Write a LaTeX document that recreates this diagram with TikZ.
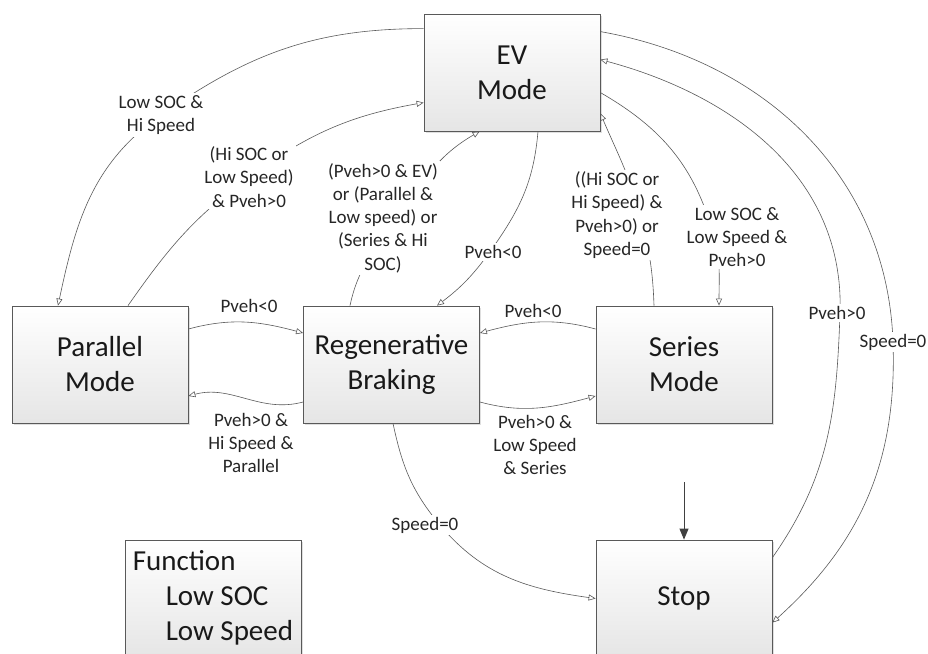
\documentclass[tikz,border=0pt]{standalone}
\usepackage{fontspec}
\setmainfont{Carlito}
\usetikzlibrary{arrows.meta,shadows}
\begin{document}
\begin{tikzpicture}[x=1pt,y=1pt,
  box/.style={draw=black!65, line width=0.8pt, top color=white, bottom color=black!10,
    minimum width=176pt, minimum height=117pt, inner sep=0pt, align=center,
    font=\fontsize{29}{35}\selectfont, text=black!90,
    drop shadow={shadow xshift=1.5pt, shadow yshift=-1.5pt, opacity=0.25}},
  boxtext/.style={font=\fontsize{29}{35}\selectfont, text=black!90, inner sep=0pt, align=left},
  lbl/.style={font=\fontsize{19}{23.3}\selectfont, align=center, inner sep=2pt, text=black!85},
  lblw/.style={lbl, fill=white},
  conn/.style={draw=black!65, line width=0.6pt, -{Triangle[open,length=7pt,width=6pt]}},
  initarrow/.style={draw=black!75, line width=1pt, -{Triangle[length=11pt,width=9pt]}},
]
\useasboundingbox (0,-653) rectangle (928,0);

% states
\node[box] (ev)   at (512,-72.5)   {EV\\Mode};
\node[box] (par)  at (100,-364.5)  {Parallel\\Mode};
\node[box] (reg)  at (391.5,-364.5){Regenerative\\Braking};
\node[box] (ser)  at (684,-364.5)  {Series\\Mode};
\node[box] (stop) at (684,-598.5)  {Stop};
\node[box] (fun)  at (213,-598.5)  {};
\node[boxtext, anchor=west] (funtext) at ([xshift=8pt,yshift=1pt]fun.west)
  {Function\\\hspace*{33pt}Low SOC\\\hspace*{33pt}Low Speed};

% waypoints of the curved connectors
\coordinate (w1) at (161,-115);
\coordinate (w2) at (249,-177);
\coordinate (w3) at (395,-220);
\coordinate (w4) at (494,-246);
\coordinate (w5) at (640,-215);
\coordinate (w6) at (714,-237);
\coordinate (w7) at (840,-313);
\coordinate (w8) at (893,-342);
\coordinate (w13) at (440,-525);
\coordinate (init) at (684,-482);

% connectors
\draw[conn] ([yshift=-15pt]ev.north west) to[out=180,in=35] (w1)
  to[out=215,in=78] ([xshift=-42pt]par.north);
\draw[conn] ([xshift=28pt]par.north) to[out=55,in=216] (w2)
  to[out=36,in=190] ([yshift=-89pt]ev.north west);
\draw[conn] ([xshift=-41.5pt]reg.north) to[out=78,in=235] (w3)
  to[out=55,in=210] ([xshift=56pt]ev.south west);
\draw[conn] ([xshift=26pt]ev.south) to[out=265,in=55] (w4)
  to[out=235,in=37] ([xshift=45.5pt]reg.north);
\draw[conn] ([xshift=-30pt]ser.north) to[out=92,in=285] (w5)
  to[out=105,in=293] ([yshift=18pt]ev.south east);
\draw[conn] ([yshift=-79pt]ev.north east) to[out=-30,in=105] (w6)
  to[out=-75,in=90] ([xshift=35pt]ser.north);
\draw[conn] ([yshift=-18pt]stop.north east) to[out=55,in=268] (w7)
  to[out=88,in=-15] ([yshift=-46pt]ev.north east);
\draw[conn] ([yshift=-18pt]ev.north east) to[out=-10,in=92] (w8)
  to[out=-88,in=42] ([yshift=-83pt]stop.north east);
\draw[conn] ([yshift=35.5pt]par.east) to[out=15,in=165] ([yshift=31.5pt]reg.west);
\draw[conn] ([yshift=-37.5pt]reg.west) to[out=195,in=15] ([yshift=-31.5pt]par.east);
\draw[conn] ([yshift=35.5pt]ser.west) to[out=165,in=15] ([yshift=31.5pt]reg.east);
\draw[conn] ([yshift=-37.5pt]reg.east) to[out=-15,in=195] ([yshift=-31.5pt]ser.west);
\draw[conn] ([xshift=1.5pt]reg.south) to[out=-78,in=130] (w13)
  to[out=-50,in=172] (stop.west);
\draw[initarrow] (init) -- (stop.north);

% labels
\node[lblw] (l1)  at (161,-115) {Low SOC \&\\Hi Speed};
\node[lblw] (l2)  at (249,-177) {(Hi SOC or\\Low Speed)\\\& Pveh>0};
\node[lblw] (l3)  at (383,-218) {(Pveh>0 \& EV)\\or (Parallel \&\\Low speed) or\\(Series \& Hi\\SOC)};
\node[lblw] (l4)  at (493,-252) {Pveh<0};
\node[lblw] (l5)  at (617,-215) {((Hi SOC or\\Hi Speed) \&\\Pveh>0) or\\Speed=0};
\node[lblw] (l6)  at (737,-237) {Low SOC \&\\Low Speed \&\\Pveh>0};
\node[lblw] (l7)  at (837,-313) {Pveh>0};
\node[lblw] (l8)  at (893,-342) {Speed=0};
\node[lblw] (l9)  at (249,-306) {Pveh<0};
\node[lblw] (l10) at (251,-443) {Pveh>0 \&\\Hi Speed \&\\Parallel};
\node[lblw] (l11) at (533,-311) {Pveh<0};
\node[lblw] (l12) at (535,-445) {Pveh>0 \&\\Low Speed\\\& Series};
\node[lblw] (l13) at (425,-525) {Speed=0};
\end{tikzpicture}
\end{document}
